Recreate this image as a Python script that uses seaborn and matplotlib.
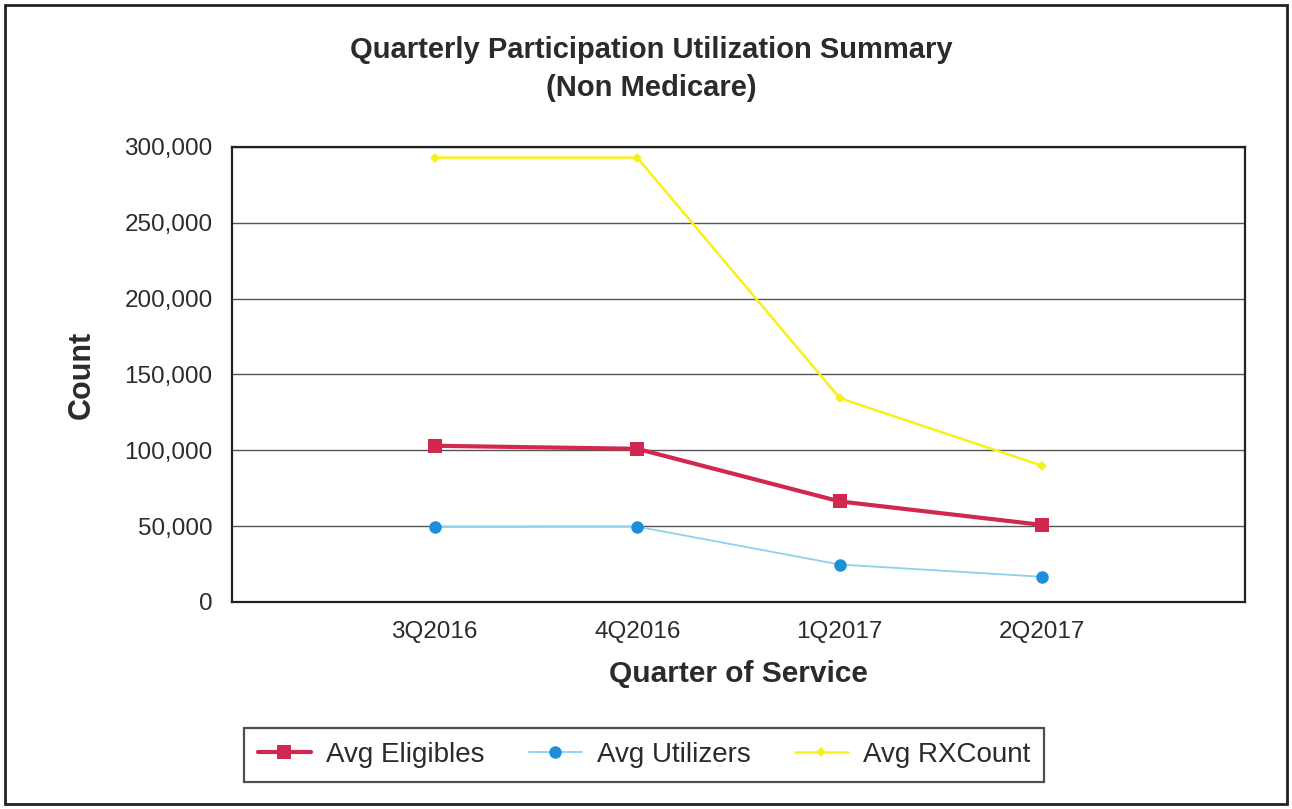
import matplotlib
matplotlib.use('Agg')
import matplotlib.pyplot as plt
import seaborn as sns
import pandas as pd
from matplotlib.patches import Rectangle
from matplotlib.ticker import FuncFormatter

quarters = ['3Q2016', '4Q2016', '1Q2017', '2Q2017']
avg_eligibles = [103000, 101000, 66300, 50800]
avg_utilizers = [49500, 49700, 24700, 16600]
avg_rxcount = [293000, 293000, 134400, 89800]

sns.set_theme(style='white')
plt.rcParams['font.family'] = ['Liberation Sans', 'DejaVu Sans']
txt = '#2b2b2b'

fig = plt.figure(figsize=(12.92, 8.09), dpi=100)
ax = fig.add_axes([0.1796, 0.2559, 0.784, 0.5624])

df = pd.DataFrame({'quarter': quarters, 'Avg Eligibles': avg_eligibles,
                   'Avg Utilizers': avg_utilizers, 'Avg RXCount': avg_rxcount})

sns.lineplot(data=df, x='quarter', y='Avg Eligibles', ax=ax, color='#D0284E',
             linewidth=3, marker='s', markersize=10, markeredgewidth=0,
             label='Avg Eligibles', sort=False)
sns.lineplot(data=df, x='quarter', y='Avg Utilizers', ax=ax, color='#8ED0EE',
             linewidth=1.3, marker='o', markersize=9, markerfacecolor='#1E8FDA',
             markeredgewidth=0, label='Avg Utilizers', sort=False)
sns.lineplot(data=df, x='quarter', y='Avg RXCount', ax=ax, color='#F8F01A',
             linewidth=1.8, marker='D', markersize=5, markeredgewidth=0,
             label='Avg RXCount', sort=False)

ax.set_xlim(-1, 4)
ax.set_ylim(0, 300000)
ax.set_yticks(range(0, 300001, 50000))
ax.yaxis.set_major_formatter(FuncFormatter(lambda v, p: f'{int(v):,}'))
ax.grid(axis='y', color='#555555', linewidth=1)
ax.set_axisbelow(True)
for s in ax.spines.values():
    s.set_color('#222222')
    s.set_linewidth(1.6)
ax.tick_params(axis='both', length=0, labelsize=17.5, labelcolor=txt, pad=14)

ax.set_xlabel('Quarter of Service', fontsize=21.5, fontweight='bold', color=txt, labelpad=12)
ax.set_ylabel('Count', fontsize=22, fontweight='bold', color=txt, labelpad=20)

fig.text(0.504, 0.938, 'Quarterly Participation Utilization Summary', ha='center',
         va='center', fontsize=21, fontweight='bold', color=txt)
fig.text(0.504, 0.891, '(Non Medicare)', ha='center', va='center', fontsize=21,
         fontweight='bold', color=txt)

leg = ax.legend(loc='center', bbox_to_anchor=(0.4985, 0.0667), bbox_transform=fig.transFigure,
                ncol=3, fontsize=20, frameon=True, fancybox=False, handlelength=1.9,
                columnspacing=1.6, borderpad=0.5, borderaxespad=0, handletextpad=0.55)
leg.get_frame().set_edgecolor('#222222')
leg.get_frame().set_linewidth(1.6)
for t in leg.get_texts():
    t.set_color(txt)

fig.patches.append(Rectangle((0.004, 0.006), 0.992, 0.988, transform=fig.transFigure,
                             fill=False, edgecolor='#222222', linewidth=2))

fig.savefig('out.png', dpi=100)
